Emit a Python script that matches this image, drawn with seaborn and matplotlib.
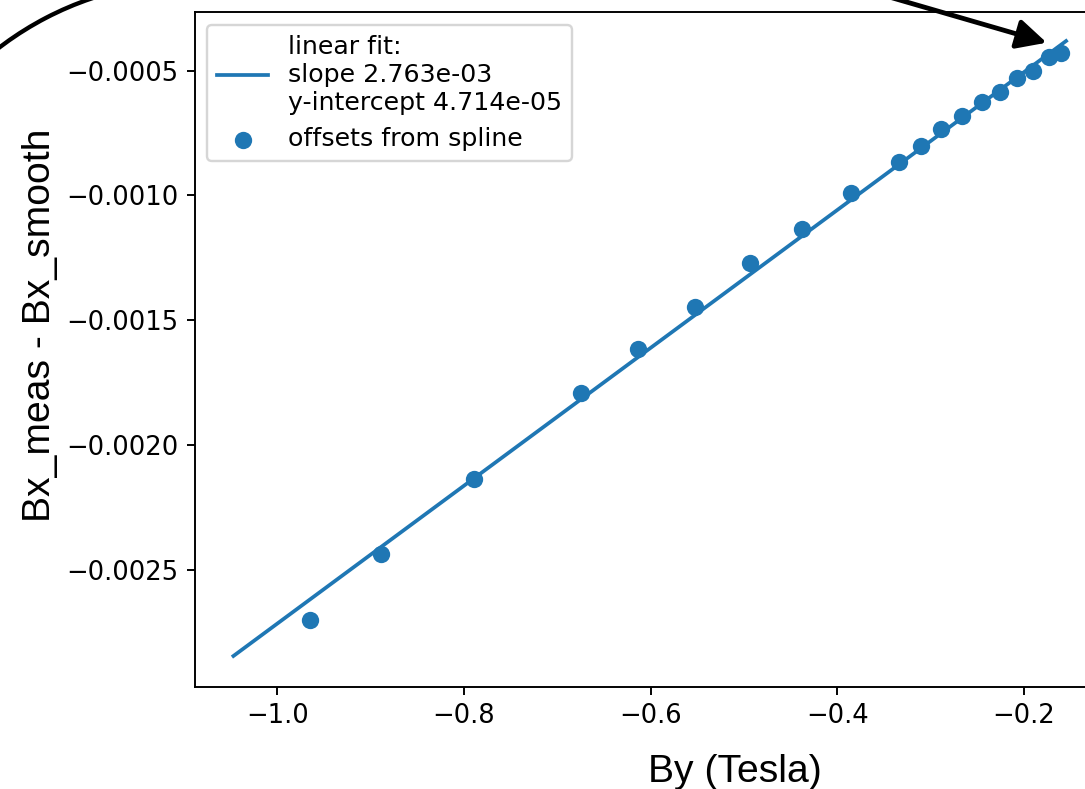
import numpy as np
import matplotlib
matplotlib.use("Agg")
import matplotlib.pyplot as plt
from matplotlib.patches import Arc, FancyArrowPatch
import seaborn as sns

# Measured field offsets versus By
by_tesla = [-0.965, -0.889, -0.789, -0.675, -0.614, -0.553, -0.494, -0.438,
            -0.385, -0.334, -0.310, -0.289, -0.267, -0.245, -0.226, -0.208,
            -0.190, -0.173, -0.160]
bx_offset = [-0.002701, -0.002437, -0.002137, -0.001790, -0.001614, -0.001446,
             -0.001269, -0.001136, -0.000991, -0.000865, -0.000801, -0.000734,
             -0.000682, -0.000625, -0.000587, -0.000528, -0.000500, -0.000446,
             -0.000428]

# Linear fit parameters and the span the fit line covers
fit_slope = 2.763e-03
fit_intercept = 4.714e-05
fit_span = [-1.047, -0.155]

plt.rcParams["font.size"] = 10.75

DPI = 173
W, H = 1085, 789
fig = plt.figure(figsize=(W / DPI, H / DPI), dpi=DPI)
ax = fig.add_axes([0.17935, 0.12928, 0.84157, 0.85513])

fit_x = np.array(fit_span)
fit_y = fit_slope * fit_x + fit_intercept
fit_label = "linear fit:\nslope {:.3e}\ny-intercept {:.3e}".format(fit_slope, fit_intercept)

sns.lineplot(x=fit_x, y=fit_y, ax=ax, color="#1f77b4", linewidth=1.55,
             label=fit_label, sort=False)
sns.scatterplot(x=by_tesla, y=bx_offset, ax=ax, color="#1f77b4", s=52,
                linewidth=0, label="offsets from spline", zorder=3)

ax.set_xlim(-1.0886, -0.1104)
ax.set_ylim(-0.00297, -0.000266)
ax.set_xlabel("")
ax.set_ylabel("")
ax.tick_params(length=3.2)
ax.legend(loc="upper left", fontsize=10.5)

# Axis titles
fig.text(735 / W, 1 - 782 / H, "By (Tesla)", family="Liberation Sans",
         fontsize=16.3, ha="center", va="baseline")
fig.text(50 / W, 1 - 325 / H, "Bx_meas - Bx_smooth", family="Liberation Sans",
         fontsize=16.3, rotation=90, rotation_mode="anchor",
         ha="center", va="baseline")

# Callout arc and arrow
fig.add_artist(Arc((194.5 / DPI, (H - 303) / DPI), 2 * 321.5 / DPI, 2 * 321.5 / DPI,
                   theta1=100, theta2=135, transform=fig.dpi_scale_trans,
                   color="black", lw=1.8))
fig.add_artist(FancyArrowPatch((879 / DPI, (H + 6) / DPI),
                               (1046.7 / DPI, (H - 42.7) / DPI),
                               transform=fig.dpi_scale_trans,
                               arrowstyle="-|>,head_length=10.4,head_width=5.2",
                               mutation_scale=1, shrinkA=0, shrinkB=0,
                               color="black", lw=2))

fig.savefig("out.png", dpi=DPI)
